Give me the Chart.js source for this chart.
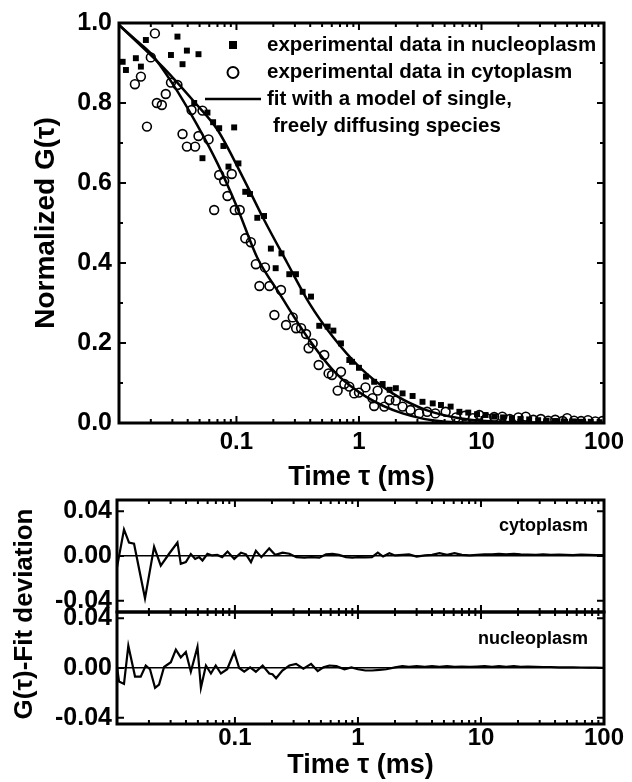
<!DOCTYPE html>
<html>
<head>
<meta charset="utf-8">
<script src="https://cdn.jsdelivr.net/npm/chart.js@4.4.0/dist/chart.umd.min.js"></script>
<style>
  html, body { margin: 0; padding: 0; background: #fff; }
  #page { position: relative; width: 632px; height: 782px; overflow: hidden; }
  #fcsChart { position: absolute; left: 0; top: 0; }
  #devChart { position: absolute; left: 0; top: 480px; }
</style>
</head>
<body>
<div id="page">
  <canvas id="fcsChart" width="632" height="500"></canvas>
  <canvas id="devChart" width="632" height="302"></canvas>
</div>
<script>
// --- data ---
const nucleoTau = [0.01178, 0.01253, 0.0151, 0.0166, 0.01823, 0.0292, 0.0330, 0.0363, 0.0394, 0.0452, 0.049, 0.0528, 0.058, 0.0645, 0.0723, 0.0783, 0.0861, 0.0958, 0.1038, 0.118, 0.129, 0.148, 0.168, 0.191, 0.209, 0.233, 0.270, 0.306, 0.347, 0.406, 0.474, 0.555, 0.618, 0.713, 0.834, 0.878, 1.0, 1.14, 1.33, 1.56, 1.78, 2.0, 2.27, 2.74, 3.3, 4.0, 4.67, 5.6, 6.6, 7.8, 9.2, 10.8, 12.7, 15, 17.7, 20.8, 24.5, 29, 34, 40, 47, 56, 66, 78, 92];
const nucleoG = [0.903, 0.8825, 0.912, 0.891, 0.9575, 0.92, 0.966, 0.897, 0.931, 0.80, 0.922, 0.662, 0.776, 0.752, 0.737, 0.6925, 0.641, 0.739, 0.649, 0.578, 0.5725, 0.513, 0.5175, 0.436, 0.387, 0.424, 0.372, 0.372, 0.328, 0.316, 0.243, 0.241, 0.231, 0.199, 0.1575, 0.153, 0.138, 0.116, 0.103, 0.0975, 0.083, 0.087, 0.074, 0.0675, 0.053, 0.049, 0.045, 0.041, 0.028, 0.026, 0.022, 0.02, 0.016, 0.014, 0.012, 0.01, 0.009, 0.007, 0.006, 0.005, 0.004, 0.004, 0.003, 0.003, 0.002];

const cytoTau = [0.01483, 0.0166, 0.0186, 0.020, 0.0216, 0.0224, 0.0246, 0.0265, 0.0292, 0.0330, 0.0363, 0.0394, 0.0430, 0.046, 0.049, 0.0528, 0.0592, 0.0658, 0.0723, 0.0794, 0.0845, 0.0916, 0.0969, 0.1064, 0.118, 0.131, 0.144, 0.154, 0.171, 0.186, 0.204, 0.231, 0.254, 0.288, 0.307, 0.337, 0.37, 0.388, 0.419, 0.469, 0.521, 0.565, 0.602, 0.67, 0.713, 0.76, 0.834, 0.915, 1.0, 1.13, 1.29, 1.33, 1.42, 1.61, 1.77, 2.0, 2.27, 2.63, 3.1, 3.6, 4.2, 5.1, 6.2, 7.3, 8.5, 9.6, 11, 12.7, 14.8, 17, 20, 23, 26.5, 30.5, 35, 40, 46, 50, 57, 65, 74, 85, 97];
const cytoG = [0.847, 0.866, 0.741, 0.914, 0.974, 0.80, 0.795, 0.8225, 0.851, 0.845, 0.7225, 0.691, 0.7825, 0.691, 0.7175, 0.781, 0.709, 0.5325, 0.62, 0.605, 0.5675, 0.6225, 0.5325, 0.5325, 0.4617, 0.452, 0.397, 0.3425, 0.389, 0.3425, 0.27, 0.3325, 0.245, 0.264, 0.237, 0.237, 0.2225, 0.187, 0.199, 0.145, 0.17, 0.124, 0.12, 0.081, 0.128, 0.0975, 0.091, 0.074, 0.076, 0.089, 0.062, 0.0425, 0.081, 0.041, 0.0575, 0.056, 0.041, 0.0325, 0.024, 0.028, 0.024, 0.028, 0.014, 0.018, 0.012, 0.02, 0.012, 0.015, 0.016, 0.01, 0.014, 0.016, 0.008, 0.01, 0.006, 0.008, 0.005, 0.012, 0.006, 0.005, 0.007, 0.004, 0.005];

const fitNucleoTau = [0.011, 0.016, 0.0258, 0.0452, 0.070, 0.112, 0.168, 0.26, 0.394, 0.61, 1.0, 1.88, 3.5, 6.6, 12, 25, 50, 100];
const fitNucleoG = [0.995, 0.948, 0.886, 0.803, 0.733, 0.616, 0.508, 0.40, 0.299, 0.216, 0.141, 0.074, 0.033, 0.012, 0.004, 0.001, 0.0, 0.0];
const fitCytoTau = [0.011, 0.015, 0.020, 0.030, 0.047, 0.070, 0.102, 0.148, 0.224, 0.394, 0.65, 1.14, 2.27, 5.1, 10, 30, 100];
const fitCytoG = [0.995, 0.958, 0.924, 0.849, 0.749, 0.649, 0.537, 0.413, 0.324, 0.2075, 0.124, 0.066, 0.024, 0.003, 0.0005, 0.0, 0.0];

const resCytoTau = [0.011, 0.01254, 0.01377, 0.01513, 0.01858, 0.02203, 0.02496, 0.02916, 0.0341, 0.0363, 0.0399, 0.0438, 0.0475, 0.0512, 0.0545, 0.0598, 0.0653, 0.0718, 0.0788, 0.0871, 0.0987, 0.112, 0.123, 0.135, 0.148, 0.164, 0.19, 0.213, 0.244, 0.277, 0.316, 0.367, 0.418, 0.486, 0.55, 0.62, 0.7, 0.8, 0.9, 1.0, 1.15, 1.3, 1.45, 1.6, 1.8, 2.0, 2.3, 2.6, 3.0, 3.5, 4.0, 4.6, 5.3, 6.1, 7.0, 8.1, 9.3, 10.7, 12.3, 14, 16, 18.5, 21, 24, 28, 32, 37, 43, 49, 56, 65, 75, 86, 99];
const resCytoDev = [-0.01, 0.0237, 0.012, 0.011, -0.0378, 0.0082, -0.0085, 0.002, 0.012, -0.007, -0.0055, 0.0018, -0.0026, -0.001, -0.004, 0.002, 0.0005, 0.001, -0.001, 0.004, -0.0026, 0.003, 0.0015, -0.0055, 0.0047, -0.001, 0.0068, 0.001, 0.003, 0.002, -0.001, -0.0015, -0.001, -0.0015, 0.0015, 0.002, 0.001, -0.001, -0.0015, -0.001, -0.0012, -0.001, 0.003, -0.0005, 0.0025, 0.0005, 0.001, 0.0015, -0.0005, 0.0005, 0.001, 0.0025, 0.001, 0.0025, 0.001, 0.0005, 0.001, 0.0015, 0.0015, 0.002, 0.0015, 0.002, 0.0015, 0.0012, 0.001, 0.0015, 0.001, 0.0012, 0.001, 0.0008, 0.0012, 0.001, 0.0008, 0.0008];

const resNucleoTau = [0.011, 0.01142, 0.01254, 0.0136, 0.01542, 0.01715, 0.01884, 0.0204, 0.02243, 0.02417, 0.02655, 0.03013, 0.0331, 0.0363, 0.0399, 0.0438, 0.0496, 0.0529, 0.0581, 0.0638, 0.0698, 0.0769, 0.0865, 0.0987, 0.1083, 0.119, 0.133, 0.148, 0.168, 0.19, 0.202, 0.216, 0.243, 0.277, 0.314, 0.36, 0.416, 0.471, 0.524, 0.586, 0.668, 0.776, 0.885, 1.0, 1.15, 1.3, 1.5, 1.7, 2.0, 2.3, 2.6, 3.0, 3.5, 4.0, 4.6, 5.3, 6.1, 7.0, 8.1, 9.3, 10.7, 12.3, 14, 16, 18.5, 21, 24, 28, 32, 37, 43, 49, 56, 65, 75, 86, 99];
const resNucleoDev = [0.001, -0.0108, -0.0128, 0.0179, -0.0069, -0.0069, 0.002, -0.001, -0.0159, -0.0133, 0.0008, 0.0046, 0.0148, 0.0085, 0.0128, -0.003, 0.0169, -0.0159, 0.002, -0.0044, 0.002, -0.0044, -0.001, 0.0128, 0.0, -0.003, 0.0005, -0.003, 0.002, -0.0044, -0.005, -0.0082, -0.002, 0.002, 0.0033, -0.0005, 0.0033, -0.0025, 0.0005, 0.002, 0.0015, -0.001, 0.0005, -0.001, -0.002, -0.002, -0.0015, -0.001, 0.0005, 0.0015, 0.001, 0.0015, 0.001, 0.0015, 0.001, 0.0015, 0.001, 0.0012, 0.001, 0.0012, 0.0015, 0.001, 0.0015, 0.001, 0.0015, 0.001, 0.0012, 0.001, 0.0008, 0.0008, 0.0005, 0.0005, 0.0005, 0.0004, 0.0003, 0.0003, 0.0002];

// --- ticks ---
const xMajorTicks = [0.1, 1, 10, 100];
const xTickLabels = ['0.1', '1', '10', '100'];
const xMinorTicks = [0.02, 0.03, 0.04, 0.05, 0.06, 0.07, 0.08, 0.09,
                     0.2, 0.3, 0.4, 0.5, 0.6, 0.7, 0.8, 0.9,
                     2, 3, 4, 5, 6, 7, 8, 9,
                     20, 30, 40, 50, 60, 70, 80, 90];
const gMajorTicks = [0, 0.2, 0.4, 0.6, 0.8, 1.0];
const gTickLabels = ['0.0', '0.2', '0.4', '0.6', '0.8', '1.0'];
const gMinorTicks = [0.1, 0.3, 0.5, 0.7, 0.9];
const devMajorTicks = [-0.04, 0, 0.04];
const devTickLabels = ['-0.04', '0.00', '0.04'];
const devMinorTicks = [-0.02, 0.02];

const legendLabels = ['experimental data in nucleoplasm', 'experimental data in cytoplasm',
                      'fit with a model of single,', 'freely diffusing species'];

const FONT = '"Liberation Sans", Arial, Helvetica, sans-serif';

function pts(xs, ys) {
    return xs.map((x, i) => ({ x: x, y: ys[i] }));
}

function findTick(v, list) {
    return list.findIndex(m => Math.abs(m - v) < 1e-9);
}

function setTicks(values) {
    return scale => { scale.ticks = values.slice().sort((a, b) => a - b).map(v => ({ value: v })); };
}

// inward tick marks + box round each plot panel
const frameTicks = {
    id: 'frameTicks',
    afterDatasetsDraw(chart, args, opts) {
        const ctx = chart.ctx;
        const area = chart.chartArea;
        const xs = chart.scales.x;
        ctx.save();
        ctx.strokeStyle = '#000';
        opts.panels.forEach(p => {
            const ys = chart.scales[p.id];
            const top = ys.top, bottom = ys.bottom;
            ctx.lineWidth = 2;
            ctx.beginPath();
            xs.ticks.forEach(t => {
                const px = xs.getPixelForValue(t.value);
                const len = findTick(t.value, xMajorTicks) >= 0 ? 7 : 4;
                ctx.moveTo(px, bottom); ctx.lineTo(px, bottom - len);
                ctx.moveTo(px, top); ctx.lineTo(px, top + len);
            });
            ys.ticks.forEach(t => {
                const py = ys.getPixelForValue(t.value);
                const len = findTick(t.value, p.majors) >= 0 ? 7 : 4;
                ctx.moveTo(area.left, py); ctx.lineTo(area.left + len, py);
                ctx.moveTo(area.right, py); ctx.lineTo(area.right - len, py);
            });
            ctx.stroke();
            ctx.lineWidth = 3;
            ctx.strokeRect(area.left, top, area.right - area.left, bottom - top);
        });
        ctx.restore();
    }
};

// legend in the top right of the correlation plot
const fcsLegend = {
    id: 'fcsLegend',
    afterDatasetsDraw(chart) {
        const ctx = chart.ctx;
        ctx.save();
        ctx.fillStyle = '#000';
        ctx.strokeStyle = '#000';
        ctx.fillRect(229, 41, 8, 8);
        ctx.lineWidth = 2;
        ctx.beginPath();
        ctx.arc(233, 72.5, 5.5, 0, Math.PI * 2);
        ctx.stroke();
        ctx.lineWidth = 2.5;
        ctx.beginPath();
        ctx.moveTo(205, 99); ctx.lineTo(261, 99);
        ctx.stroke();
        ctx.font = 'bold 20.5px ' + FONT;
        ctx.textAlign = 'left';
        ctx.textBaseline = 'middle';
        ctx.fillText(legendLabels[0], 267, 45);
        ctx.fillText(legendLabels[1], 267, 72.5);
        ctx.fillText(legendLabels[2], 267, 99);
        ctx.fillText(legendLabels[3], 273, 126);
        ctx.restore();
    }
};

// shared y title and panel names for the deviation plot
const devLabels = {
    id: 'devLabels',
    afterDatasetsDraw(chart) {
        const ctx = chart.ctx;
        ctx.save();
        ctx.fillStyle = '#000';
        ctx.font = 'bold 18px ' + FONT;
        ctx.textAlign = 'right';
        ctx.textBaseline = 'middle';
        ctx.fillText('cytoplasm', 588, chart.scales.yc.getPixelForValue(0.027));
        ctx.fillText('nucleoplasm', 588, chart.scales.yn.getPixelForValue(0.0232));
        ctx.font = 'bold 26px ' + FONT;
        ctx.textAlign = 'center';
        ctx.translate(25, 134);
        ctx.rotate(-Math.PI / 2);
        ctx.fillText('G(\u03c4)-Fit deviation', 0, 0);
        ctx.restore();
    }
};

const xTickFont = { family: FONT, size: 24, weight: 'bold' };
const yTickFont = { family: FONT, size: 25, weight: 'bold' };
const titleFont = { family: FONT, size: 27, weight: 'bold' };

function xAxis(height, tickPad, titlePad) {
    return {
        type: 'logarithmic',
        min: 0.011,
        max: 100,
        afterBuildTicks: setTicks(xMajorTicks.concat(xMinorTicks)),
        afterFit: s => { s.height = height; },
        grid: { display: false, drawTicks: false },
        border: { display: false },
        ticks: {
            autoSkip: false, maxRotation: 0, padding: tickPad, color: '#000', font: xTickFont,
            callback: v => { const i = findTick(v, xMajorTicks); return i >= 0 ? xTickLabels[i] : ''; }
        },
        title: { display: true, text: 'Time \u03c4 (ms)', color: '#000', font: titleFont, padding: { top: 0, bottom: titlePad } }
    };
}

new Chart(document.getElementById('fcsChart'), {
    type: 'scatter',
    data: {
        datasets: [
            { label: 'fit nucleoplasm', data: pts(fitNucleoTau, fitNucleoG), showLine: true, pointRadius: 0,
              borderColor: '#000', borderWidth: 2.5, cubicInterpolationMode: 'monotone', order: 0 },
            { label: 'fit cytoplasm', data: pts(fitCytoTau, fitCytoG), showLine: true, pointRadius: 0,
              borderColor: '#000', borderWidth: 2.5, cubicInterpolationMode: 'monotone', order: 0 },
            { label: 'nucleoplasm', data: pts(nucleoTau, nucleoG), pointStyle: 'rect', pointRadius: 4.2,
              backgroundColor: '#000', borderColor: '#000', borderWidth: 0, order: 2 },
            { label: 'cytoplasm', data: pts(cytoTau, cytoG), pointStyle: 'circle', pointRadius: 4.4,
              backgroundColor: 'rgba(255,255,255,0)', borderColor: '#000', borderWidth: 1.6, order: 1 }
        ]
    },
    options: {
        responsive: false,
        animation: false,
        layout: { padding: { left: 0, right: 28, top: 23, bottom: 0 } },
        plugins: {
            legend: { display: false },
            tooltip: { enabled: false },
            frameTicks: { panels: [{ id: 'y', majors: gMajorTicks }] }
        },
        scales: {
            x: xAxis(77, 5, 6),
            y: {
                min: 0, max: 1,
                afterBuildTicks: setTicks(gMajorTicks.concat(gMinorTicks)),
                afterFit: s => { s.width = 119; },
                grid: { display: false, drawTicks: false },
                border: { display: false },
                ticks: {
                    padding: 7, color: '#000', font: yTickFont,
                    callback: v => { const i = findTick(v, gMajorTicks); return i >= 0 ? gTickLabels[i] : ''; }
                },
                title: { display: true, text: 'Normalized G(\u03c4)', color: '#000',
                         font: { family: FONT, size: 28, weight: 'bold' }, padding: { top: 29, bottom: 0 } }
            }
        }
    },
    plugins: [frameTicks, fcsLegend]
});

function devAxis(lim, weight) {
    return {
        position: 'left',
        stack: 'dev',
        stackWeight: 1,
        weight: weight,
        min: -lim, max: lim,
        afterBuildTicks: setTicks(devMajorTicks.concat(devMinorTicks)),
        afterFit: s => { s.width = 117; },
        grid: {
            drawTicks: false,
            lineWidth: 1.5,
            color: c => (c.tick && Math.abs(c.tick.value) < 1e-9) ? '#000' : 'rgba(0,0,0,0)'
        },
        border: { display: false },
        ticks: {
            padding: 5, color: '#000', font: yTickFont,
            callback: v => { const i = findTick(v, devMajorTicks); return i >= 0 ? devTickLabels[i] : ''; }
        }
    };
}

new Chart(document.getElementById('devChart'), {
    type: 'line',
    data: {
        datasets: [
            { label: 'cytoplasm', data: pts(resCytoTau, resCytoDev), yAxisID: 'yc',
              borderColor: '#000', borderWidth: 2.2, pointRadius: 0, tension: 0 },
            { label: 'nucleoplasm', data: pts(resNucleoTau, resNucleoDev), yAxisID: 'yn',
              borderColor: '#000', borderWidth: 2.2, pointRadius: 0, tension: 0 }
        ]
    },
    options: {
        responsive: false,
        animation: false,
        layout: { padding: { left: 0, right: 28, top: 14, bottom: 0 } },
        plugins: {
            legend: { display: false },
            tooltip: { enabled: false },
            frameTicks: { panels: [{ id: 'yc', majors: devMajorTicks }, { id: 'yn', majors: devMajorTicks }] }
        },
        scales: {
            x: xAxis(58, 0, 0),
            yn: devAxis(0.045, 1),
            yc: devAxis(0.05, 2)
        }
    },
    plugins: [frameTicks, devLabels]
});
</script>
</body>
</html>
